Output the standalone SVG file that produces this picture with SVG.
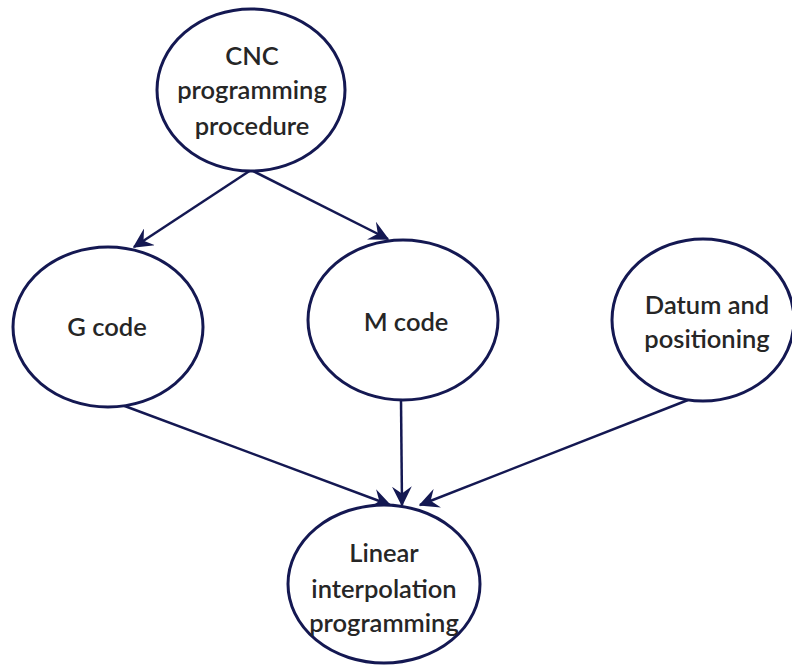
<svg xmlns="http://www.w3.org/2000/svg" width="792" height="666" viewBox="0 0 792 666">
<style>
.node{fill:#fff;stroke:#141852;stroke-width:3}
.lbl{font-family:Lato,"Liberation Sans",sans-serif;font-weight:600;font-size:25.5px;fill:#262626;text-anchor:middle}
.edge{stroke:#141852;stroke-width:2.5;fill:none;marker-end:url(#arr)}
</style>
<defs>
<marker id="arr" markerUnits="userSpaceOnUse" viewBox="0 0 14 14" refX="13" refY="7" markerWidth="20" markerHeight="20" orient="auto">
<path d="M0,0 L14,7 L0,14 L5,7 z" fill="#141852"/>
</marker>
</defs>
<rect width="792" height="666" fill="#fff"/>
<g id="connectors">
<line class="edge" x1="251" y1="170" x2="134" y2="247"/>
<line class="edge" x1="251" y1="170" x2="388" y2="239"/>
<line class="edge" x1="122" y1="405" x2="390" y2="505"/>
<line class="edge" x1="401" y1="400" x2="402" y2="505"/>
<line class="edge" x1="688" y1="400" x2="420" y2="505"/>
</g>
<g id="cnc">
<ellipse class="node" cx="251" cy="90" rx="94" ry="81"/>
<text class="lbl" x="252" y="65">CNC</text>
<text class="lbl" x="252" y="99">programming</text>
<text class="lbl" x="252" y="135">procedure</text>
</g>
<g id="gcode">
<ellipse class="node" cx="108" cy="327" rx="95" ry="80"/>
<text class="lbl" x="107" y="336">G code</text>
</g>
<g id="mcode">
<ellipse class="node" cx="403" cy="320" rx="95" ry="80"/>
<text class="lbl" x="406" y="331">M code</text>
</g>
<g id="datum">
<ellipse class="node" cx="703" cy="320" rx="91" ry="81"/>
<text class="lbl" x="707" y="314">Datum and</text>
<text class="lbl" x="707" y="348">positioning</text>
</g>
<g id="linear">
<ellipse class="node" cx="384" cy="584" rx="96" ry="79"/>
<text class="lbl" x="384" y="562">Linear</text>
<text class="lbl" x="384" y="598">interpolation</text>
<text class="lbl" x="384" y="632">programming</text>
</g>
</svg>
